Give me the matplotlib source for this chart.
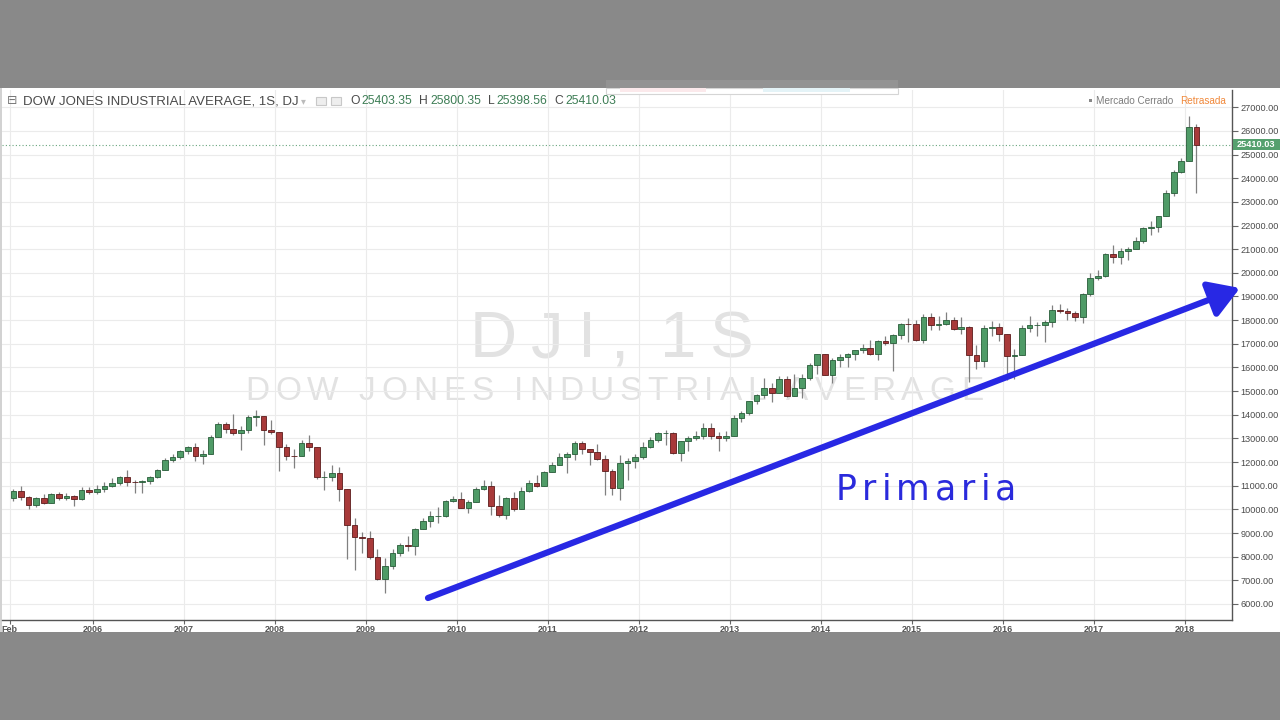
"""
DJI semanal 2005-2018 (recreación aproximada con velas mensuales) + tendencia primaria
"""
import matplotlib
matplotlib.use('Agg')
import matplotlib.pyplot as plt
from matplotlib.patches import Rectangle
import numpy as np

plt.rcParams['font.family'] = ['Liberation Sans', 'DejaVu Sans']

W, H = 1280, 720

# ---- datos (velas mensuales feb-2005 .. feb-2018) ----
first_open = 10490
closes = [
    10766, 10504, 10193, 10467, 10275, 10641, 10482, 10569, 10440, 10806, 10718,
    10865, 10993, 11109, 11367, 11168, 11150, 11186, 11381, 11679, 12081, 12221, 12463,
    12622, 12269, 12354, 13063, 13628, 13409, 13212, 13358, 13896, 13930, 13372, 13265,
    12650, 12266, 12263, 12820, 12638, 11350, 11378, 11544, 10851, 9325, 8829, 8776,
    8001, 7063, 7609, 8168, 8500, 8447, 9172, 9496, 9712, 9713, 10344, 10428,
    10067, 10325, 10857, 11009, 10137, 9774, 10466, 10015, 10788, 11118, 11006, 11578,
    11892, 12226, 12320, 12811, 12570, 12414, 12143, 11614, 10913, 11955, 12046, 12218,
    12633, 12952, 13212, 13214, 12393, 12880, 13009, 13091, 13437, 13096, 13026, 13104,
    13861, 14054, 14579, 14840, 15116, 14910, 15500, 14810, 15130, 15546, 16086, 16577,
    15699, 16322, 16458, 16581, 16717, 16827, 16563, 17098, 17043, 17391, 17828, 17823,
    17165, 18133, 17776, 17841, 18011, 17620, 17690, 16528, 16285, 17664, 17720, 17425,
    16466, 16517, 17685, 17774, 17787, 17930, 18432, 18401, 18308, 18142, 19124, 19763,
    19864, 20812, 20663, 20941, 21009, 21350, 21891, 21948, 22405, 23377, 24272, 24719,
    26149, 25410,
]
highs = [
    10841, 10984, 10570, 10542, 10656, 10705, 10719, 10683, 10620, 10931, 10940,
    11047, 11137, 11334, 11416, 11670, 11260, 11250, 11423, 11718, 12167, 12342, 12529,
    12686, 12795, 12500, 13162, 13692, 13693, 14022, 13522, 14000, 14198, 13936, 13773,
    13279, 12767, 12548, 12931, 13136, 12645, 11604, 11867, 11790, 10882, 9653, 9026,
    9088, 8315, 7925, 8338, 8588, 8877, 9216, 9630, 9917, 10120, 10406, 10580,
    10730, 10400, 10933, 11258, 11206, 10595, 10520, 10720, 10948, 11245, 11451, 11625,
    12020, 12391, 12420, 12876, 12876, 12570, 12753, 12284, 11716, 12284, 12188, 12360,
    12841, 13055, 13290, 13338, 13280, 12899, 13100, 13330, 13653, 13662, 13290, 13310,
    13969, 14150, 14585, 14888, 15542, 15340, 15658, 15658, 15709, 15722, 16174, 16588,
    16588, 16420, 16588, 16631, 16735, 16978, 17151, 17153, 17350, 17400, 17894, 18103,
    18000, 18244, 18288, 18175, 18351, 18138, 18137, 17750, 16933, 17800, 17978, 17896,
    17405, 16795, 17790, 18168, 17934, 18016, 18622, 18668, 18534, 18400, 19152, 19987,
    20126, 20851, 21169, 21070, 21112, 21535, 21929, 22179, 22420, 23485, 24328, 24876,
    26617, 26306,
]
lows = [
    10370, 10402, 10012, 10094, 10241, 10270, 10397, 10378, 10156, 10390, 10661,
    10667, 10732, 10960, 11032, 10990, 10700, 10683, 11052, 11335, 11644, 11986, 12150,
    12330, 12050, 11939, 12354, 13045, 13232, 13155, 12518, 13209, 13540, 12724, 13167,
    11634, 12071, 11731, 12263, 12480, 11287, 10827, 11210, 10365, 7882, 7449, 8149,
    7909, 7006, 6470, 7469, 8039, 8221, 8087, 9153, 9250, 9430, 9678, 10308,
    10040, 9835, 10300, 10820, 9774, 9690, 9614, 9936, 10000, 10750, 10929, 11000,
    11580, 11875, 11555, 12093, 12332, 11862, 12093, 10604, 10597, 10404, 11231, 11735,
    12150, 12600, 12860, 12710, 12330, 12035, 12470, 12950, 12970, 12990, 12471, 12880,
    13104, 13690, 14000, 14435, 14690, 14551, 14900, 14760, 14777, 14719, 15450, 15703,
    15690, 15340, 16017, 16015, 16334, 16630, 16540, 16333, 16945, 15855, 17200, 17067,
    17136, 17037, 17585, 17590, 17792, 17590, 17400, 15370, 15942, 16013, 17330, 17138,
    15450, 15503, 16545, 17484, 17331, 17063, 17713, 18283, 18020, 17959, 17884, 19000,
    19677, 19831, 20412, 20379, 20554, 20996, 21279, 21600, 21709, 22416, 23242, 24242,
    24741, 23360,
]

year_ticks = [2005 + 1 / 12] + list(range(2006, 2019))
year_labels = ['Feb'] + [str(y) for y in range(2006, 2019)]
price_ticks = list(range(6000, 27001, 1000))
last_price = 25410.03
ohlc_header = [('O', '25403.35'), ('H', '25800.35'), ('L', '25398.56'), ('C', '25410.03')]

UP_FACE, UP_EDGE = '#4f9b67', '#285c39'
DN_FACE, DN_EDGE = '#a83a3a', '#5c1b1b'
WICK = '#808080'
TXT = '#4a4a4a'


def fx(x):
    return x / W


def fy(y):
    # y en píxeles medido desde arriba
    return 1 - y / H


def spaced_text(fig, x, y, s, gap, space_w, **kw):
    """Texto con espaciado entre letras; x, y en píxeles (y desde arriba, línea base)."""
    r = fig.canvas.get_renderer()
    cur = x
    for ch in s:
        if ch == ' ':
            cur += space_w
            continue
        t = fig.text(fx(cur), fy(y), ch, va='baseline', ha='left', **kw)
        cur += t.get_window_extent(r).width + gap
    return cur


fig = plt.figure(figsize=(12.8, 7.2), dpi=100, facecolor='#898989')
renderer = fig.canvas.get_renderer()

# panel blanco
fig.add_artist(Rectangle((0, fy(632)), 1, (632 - 88) / H, transform=fig.transFigure,
                         facecolor='white', edgecolor='none', zorder=-3))
fig.add_artist(Rectangle((fx(0), fy(632)), fx(2), (632 - 88) / H, transform=fig.transFigure,
                         facecolor='#d2d2d2', edgecolor='none', zorder=-2))

# marca de agua
spaced_text(fig, 470, 357, 'DJI, 1S', 14, 18, fontsize=47, color='#e2e2e2', zorder=-1)
spaced_text(fig, 245, 400, 'DOW JONES INDUSTRIAL AVERAGE', 6, 14,
            fontsize=24, color='#e2e2e2', zorder=-1)

ax = fig.add_axes([fx(2), fy(620), (1232 - 2) / W, (620 - 90) / H])
ax.set_facecolor('none')
ax.set_xlim(2005.0, 2018.516)
ax.set_ylim(5323, 27730)

# velas
n = len(closes)
xs = np.array([2005 + (1 + i + 0.5) / 12 for i in range(n)])
c = np.array(closes, dtype=float)
o = np.concatenate([[first_open], c[:-1]])
hi = np.array(highs, dtype=float)
lo = np.array(lows, dtype=float)
up = c >= o

ax.vlines(xs, lo, hi, color=WICK, lw=0.9, zorder=2)
bw = 0.75 / 12
ax.bar(xs[up], (c - o)[up], bottom=o[up], width=bw, color=UP_FACE,
       edgecolor=UP_EDGE, linewidth=0.6, zorder=3)
ax.bar(xs[~up], (o - c)[~up], bottom=c[~up], width=bw, color=DN_FACE,
       edgecolor=DN_EDGE, linewidth=0.6, zorder=3)

# línea de último precio
ax.axhline(last_price, color='#6aa57f', lw=0.8, ls=(0, (1, 2)), zorder=1)

# ejes
ax.yaxis.tick_right()
ax.set_yticks(price_ticks, [f'{v:.2f}' for v in price_ticks])
ax.set_xticks(year_ticks, year_labels)
ax.tick_params(axis='y', length=4, width=0.8, color='#666666', labelsize=6.6,
               labelcolor=TXT, pad=2)
ax.tick_params(axis='x', length=3, width=0.8, color='#666666', labelsize=6.5,
               labelcolor='#555555', pad=0.5)
for lbl in ax.get_xticklabels():
    lbl.set_fontweight('bold')
ax.grid(color='#ebebeb', lw=0.8, zorder=0)
ax.set_axisbelow(True)
for s in ['top', 'left']:
    ax.spines[s].set_visible(False)
for s in ['right', 'bottom']:
    ax.spines[s].set_color('#555555')
    ax.spines[s].set_linewidth(1.0)

# etiqueta de precio actual
fig.add_artist(Rectangle((fx(1233), fy(150)), fx(47), 11 / H, transform=fig.transFigure,
                         facecolor='#55a06e', edgecolor='none', zorder=4))
fig.text(fx(1256), fy(144.5), f'{last_price:.2f}', ha='center', va='center',
         fontsize=6.6, color='white', fontweight='bold', zorder=5)

# cabecera
fig.text(fx(7), fy(101), '\u229f', ha='left', va='center', fontsize=9,
         color='#777777', family=['DejaVu Sans'])
fig.text(fx(23), fy(101), 'DOW JONES INDUSTRIAL AVERAGE, 1S, DJ', ha='left',
         va='center', fontsize=9.5, color=TXT)
fig.text(fx(301), fy(101), '\u25be', ha='left', va='center', fontsize=7,
         color='#bbbbbb', family=['DejaVu Sans'])
for px in (316, 331):
    fig.add_artist(Rectangle((fx(px), fy(105)), fx(10), 8 / H, transform=fig.transFigure,
                             facecolor='#eeeeee', edgecolor='#c8c8c8', lw=0.8))
cur = 350
for letter, val in ohlc_header:
    t = fig.text(fx(cur), fy(101), letter, ha='left', va='center', fontsize=8.7, color=TXT)
    cur += t.get_window_extent(renderer).width + 2
    t = fig.text(fx(cur), fy(101), val, ha='left', va='center', fontsize=8.7, color='#3d7d55')
    cur += t.get_window_extent(renderer).width + 7

fig.add_artist(Rectangle((fx(1089), fy(102)), fx(3), 3 / H, transform=fig.transFigure,
                         facecolor='#888888', edgecolor='none'))
fig.text(fx(1096), fy(100.5), 'Mercado Cerrado', ha='left', va='center', fontsize=7.2,
         color='#7d7d7d')
fig.text(fx(1180), fy(100.5), 'Retrasada', ha='left', va='center', fontsize=7.2,
         color='#f0883a')

# ventana emergente recortada arriba (parte superior bajo la banda gris)
fig.add_artist(Rectangle((fx(606), fy(94)), fx(292), 6 / H, transform=fig.transFigure,
                         facecolor='white', edgecolor='#d5d5d5', lw=0.8, zorder=6))
fig.add_artist(Rectangle((fx(606), fy(88)), fx(292), 8 / H, transform=fig.transFigure,
                         facecolor='#939393', edgecolor='none', zorder=6))
fig.add_artist(Rectangle((fx(620), fy(92)), fx(86), 4 / H, transform=fig.transFigure,
                         facecolor='#fbe9eb', edgecolor='none', zorder=7))
fig.add_artist(Rectangle((fx(763), fy(92)), fx(87), 4 / H, transform=fig.transFigure,
                         facecolor='#e4f3f7', edgecolor='none', zorder=7))

# tendencia primaria dibujada a mano
ax.annotate('', xy=(fx(1240), fy(288)), xytext=(fx(428), fy(598)),
            xycoords='figure fraction', textcoords='figure fraction',
            arrowprops=dict(arrowstyle='-|>,head_length=1.3,head_width=0.8',
                            mutation_scale=14, lw=4.5, color='#2828e4',
                            shrinkA=0, shrinkB=0),
            annotation_clip=False, zorder=8)
spaced_text(fig, 836, 500, 'Primaria', 5, 10, fontsize=25, color='#2a2adc',
            family=['DejaVu Sans'], zorder=8)

fig.savefig('out.png', dpi=100, facecolor=fig.get_facecolor())
